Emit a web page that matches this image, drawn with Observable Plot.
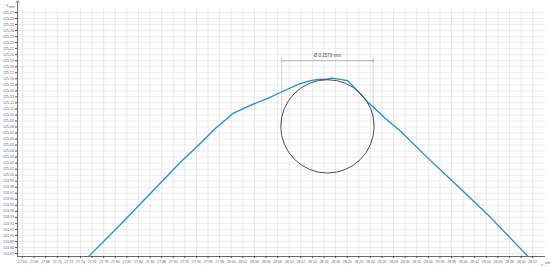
<!DOCTYPE html>
<html><head><meta charset="utf-8">
<script src="https://cdn.jsdelivr.net/npm/d3@7"></script>
<script src="https://cdn.jsdelivr.net/npm/@observablehq/plot@0.6"></script>
<style>
body{margin:0;background:#fff;}
#chart svg{display:block;}
</style></head>
<body><div id="chart"></div>
<script>
// Profile (mm)
const profileX = [27.754, 27.809, 27.861, 27.912, 27.947, 27.973, 28.004, 28.033, 28.062, 28.093, 28.119, 28.137, 28.150, 28.162, 28.174, 28.188, 28.200, 28.211, 28.235, 28.266, 28.292, 28.343, 28.395, 28.447, 28.512];
const profileY = [124.865, 124.918, 124.970, 125.021, 125.053, 125.078, 125.103, 125.116, 125.127, 125.141, 125.152, 125.157, 125.159, 125.159, 125.161, 125.159, 125.157, 125.147, 125.122, 125.094, 125.073, 125.025, 124.978, 124.930, 124.865];
// Fitted circle
const circleCenterX = 28.166;
const circleCenterY = 125.081;
const circleDiameter = 0.1579;
const circleLabel = "Ø 0.1579 mm";
// Tick labels
const xTicks = [27.64,27.66,27.68,27.70,27.72,27.74,27.76,27.78,27.80,27.82,27.84,27.86,27.88,27.90,27.92,27.94,27.96,27.98,28.00,28.02,28.04,28.06,28.08,28.10,28.12,28.14,28.16,28.18,28.20,28.22,28.24,28.26,28.28,28.30,28.32,28.34,28.36,28.38,28.40,28.42,28.44,28.46,28.48,28.50,28.52];
const yTicks = [124.87,124.88,124.89,124.90,124.91,124.92,124.93,124.94,124.95,124.96,124.97,124.98,124.99,125.00,125.01,125.02,125.03,125.04,125.05,125.06,125.07,125.08,125.09,125.10,125.11,125.12,125.13,125.14,125.15,125.16,125.17,125.18,125.19,125.20,125.21,125.22,125.23,125.24,125.25,125.26,125.27];
const unitLabel = "mm";

const xDomain = [27.6314, 28.542];
const yDomain = [124.865, 125.275];
const profile = profileX.map((x, i) => ({x, y: profileY[i]}));

function build(rPx) {
  const dimY = 125.190;
  const x0 = circleCenterX - circleDiameter / 2, x1 = circleCenterX + circleDiameter / 2;
  const marks = [
    Plot.ruleX(xTicks, {stroke: "#d8d8d8", strokeWidth: 0.6}),
    Plot.ruleY(yTicks, {stroke: "#e0e0e0", strokeWidth: 0.6}),
    Plot.axisY(yTicks, {tickSize: 2, tickPadding: 1.5, fontSize: 3.6, tickFormat: d => d.toFixed(2), stroke: "#555", fill: "#666"}),
    Plot.axisX(xTicks, {tickSize: 2, tickPadding: 2, fontSize: 3.5, tickFormat: d => d.toFixed(2), stroke: "#555", fill: "#666"}),
    Plot.link([0], {x1: xDomain[0], x2: xDomain[0], y1: yDomain[0], y2: 125.288, stroke: "#444", strokeWidth: 0.8, markerEnd: "arrow"}),
    Plot.ruleY([yDomain[0]], {stroke: "#444", strokeWidth: 0.8}),
    Plot.text([unitLabel], {frameAnchor: "top-left", dx: -9, dy: -4, fontSize: 3.6, fill: "#666"}),
    Plot.text([unitLabel], {frameAnchor: "bottom-right", dx: 5, dy: 7.5, textAnchor: "end", fontSize: 3.3, fill: "#666"}),
    // dimension
    Plot.ruleX([x0, x1], {y1: circleCenterY, y2: 125.196, stroke: "#aaa", strokeWidth: 0.5}),
    Plot.link([0], {x1: x0, x2: x1, y1: dimY, y2: dimY, stroke: "#777", strokeWidth: 0.5, markerStart: "arrow", markerEnd: "arrow"}),
    Plot.text([circleLabel], {x: circleCenterX, y: 125.199, fontSize: 4.5, fill: "#444"}),
    Plot.line(profile, {x: "x", y: "y", stroke: "#1f8fd0", strokeWidth: 1.3, curve: "linear"})
  ];
  if (rPx) {
    marks.push(Plot.dot([0], {x: circleCenterX, y: circleCenterY, r: rPx, stroke: "#3a3a3a", strokeWidth: 0.9, fill: "none"}));
  }
  return Plot.plot({
    width: 550, height: 268,
    marginLeft: 17, marginRight: 5, marginTop: 9, marginBottom: 12,
    x: {domain: xDomain, axis: null},
    y: {domain: yDomain, axis: null},
    style: {fontFamily: "Liberation Sans, Arial, sans-serif", background: "#fff", overflow: "visible"},
    marks
  });
}
const first = build(0);
const xs = first.scale("x");
const ys = first.scale("y");
const rx = Math.abs(xs.apply(circleCenterX + circleDiameter / 2) - xs.apply(circleCenterX));
const ry = Math.abs(ys.apply(circleCenterY + circleDiameter / 2) - ys.apply(circleCenterY));
document.getElementById("chart").append(build((rx + ry) / 2));
</script>
</body></html>
